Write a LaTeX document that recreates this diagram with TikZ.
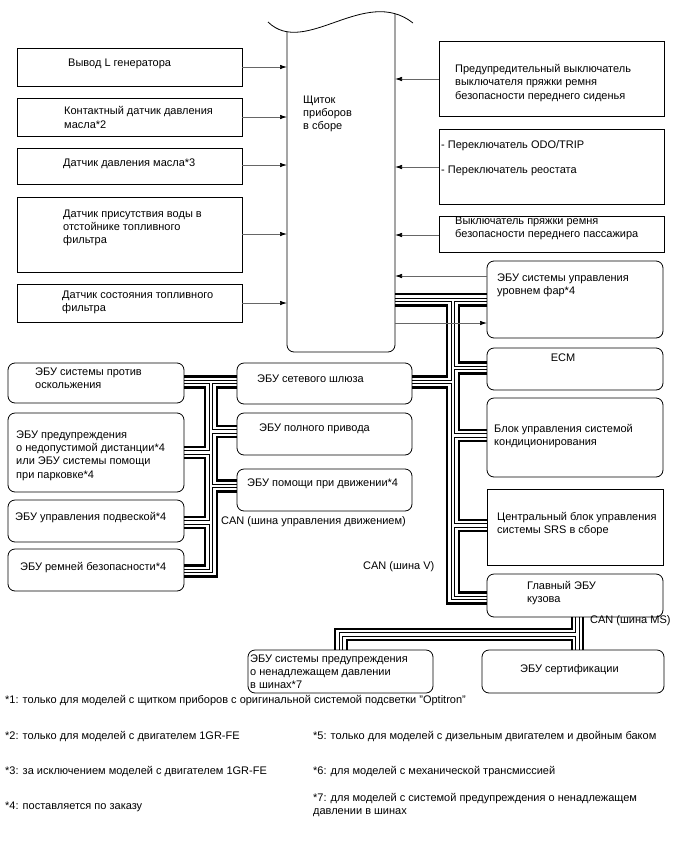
\documentclass[tikz,border=0pt]{standalone}
\usepackage{fontspec}
\setmainfont{Liberation Sans}
\usetikzlibrary{arrows.meta}
\pgfdeclarelayer{bg}
\pgfsetlayers{bg,main}
\newcommand\mkbox[6]{\node[#1, minimum width={(#5)-(#3)}, minimum height={(#6)-(#4)}] (#2) at (#3,#4) {};}
\begin{document}
\begin{tikzpicture}[x=1pt,y=-1pt,
  bx/.style={draw, line width=0.8pt, anchor=north west, inner sep=0pt, outer sep=0pt},
  rbx/.style={bx, rounded corners=7pt},
  tx/.style={anchor=west, inner sep=0pt, align=left, font=\fontsize{11}{13.2}\selectfont},
  arr/.style={draw=black!60, line width=0.7pt, -{Latex[length=7pt,width=4.5pt,color=black]}},
  thk/.style={line width=2.8pt},
  holo/.style={line width=4.6pt},
  holi/.style={white, line width=2.4pt},
  frame/.style={line width=0.8pt}
]
\useasboundingbox (0,0) rectangle (688,852);
% boxes
\mkbox{bx}{s1}{17}{48}{242}{86}
\mkbox{bx}{s2}{17}{98}{242}{136}
\mkbox{bx}{s3}{17}{148}{242}{184}
\mkbox{bx}{s4}{17}{197}{242}{272}
\mkbox{bx}{s5}{17}{284}{242}{322}
\node[anchor=north west, inner sep=0pt, outer sep=0pt, minimum width=108pt, minimum height=339pt] (meter) at (287,13) {};
\mkbox{bx}{r1}{439}{41}{664}{116}
\mkbox{bx}{r2}{439}{129}{664}{204}
\mkbox{bx}{r3}{439}{216}{664}{252}
\mkbox{rbx}{hl}{487}{261}{663}{338}
\mkbox{rbx}{ecm}{487}{348}{663}{390}
\mkbox{rbx}{ac}{487}{398}{663}{477}
\mkbox{bx}{srs}{487}{489}{663}{565}
\mkbox{rbx}{body}{487}{574}{663}{617}
\mkbox{rbx}{gw}{237}{363}{412}{404}
\mkbox{rbx}{awd}{237}{413}{412}{455}
\mkbox{rbx}{da}{237}{469}{412}{511}
\mkbox{rbx}{abs}{8}{363}{184}{403}
\mkbox{rbx}{dist}{8}{413}{184}{492}
\mkbox{rbx}{susp}{8}{500}{184}{542}
\mkbox{rbx}{belt}{8}{549}{184}{591}
\mkbox{rbx}{tire}{248}{650}{433}{693}
\mkbox{rbx}{cert}{482}{650}{664}{693}
% meter outline
\draw[frame, rounded corners=7pt] (meter.west |- 0,31.5) -- (meter.south west) -- (meter.south east) -- (meter.east |- 0,13.7);
\draw[frame] (268,22) .. controls (305,58) and (365,-15) .. (413,23);
% texts
\node[tx] (t1) at (68,64) {Вывод L генератора};
\node[tx] (t2) at (64,117.5) {Контактный датчик давления\\масла*2};
\node[tx] (t3) at (63,164) {Датчик давления масла*3};
\node[tx] (t4) at (63,228) {Датчик присутствия воды в\\отстойнике топливного\\фильтра};
\node[tx] (t5) at (62,302) {Датчик состояния топливного\\фильтра};
\node[tx] (tm) at (303,114) {Щиток\\приборов\\в сборе};
\node[tx] (tr1) at (455,83) {Предупредительный выключатель\\выключателя пряжки ремня\\безопасности переднего сиденья};
\node[tx] (tr2a) at (441,146) {- Переключатель ODO/TRIP};
\node[tx] (tr2b) at (441,171) {- Переключатель реостата};
\node[tx] (tr3) at (455,228.5) {Выключатель пряжки ремня\\безопасности переднего пассажира};
\node[tx] (thl) at (497,285.5) {ЭБУ системы управления\\уровнем фар*4};
\node[tx, anchor=center] (tecm) at (563,358) {ECM};
\node[tx] (tac) at (494,436) {Блок управления системой\\кондиционирования};
\node[tx] (tsrs) at (497,524) {Центральный блок управления\\системы SRS в сборе};
\node[tx] (tbody) at (527,593) {Главный ЭБУ\\кузова};
\node[tx] (tgw) at (257,379) {ЭБУ сетевого шлюза};
\node[tx] (tawd) at (259,429) {ЭБУ полного привода};
\node[tx] (tda) at (247,484) {ЭБУ помощи при движении*4};
\node[tx] (lcan1) at (221,522) {CAN (шина управления движением)};
\node[tx] (lcan2) at (363,567) {CAN (шина V)};
\node[tx] (lcan3) at (590,621) {CAN (шина MS)};
\node[tx] (tabs) at (35,378) {ЭБУ системы против\\оскольжения};
\node[tx] (tdist) at (16,455.5) {ЭБУ предупреждения\\о недопустимой дистанции*4\\или ЭБУ системы помощи\\при парковке*4};
\node[tx] (tsusp) at (15,518) {ЭБУ управления подвеской*4};
\node[tx] (tbelt) at (20,568) {ЭБУ ремней безопасности*4};
\node[tx, font=\fontsize{11}{12.8}\selectfont] (ttire) at (250,671.5) {ЭБУ системы предупреждения\\о ненадлежащем давлении\\в шинах*7};
\node[tx] (tcert) at (520,670) {ЭБУ сертификации};
% footnotes
\node[tx] (f1) at (5,701) {*1: только для моделей с щитком приборов с оригинальной системой подсветки "Optitron"};
\node[tx] (f2) at (5,737) {*2: только для моделей с двигателем 1GR-FE};
\node[tx] (f3) at (5,772) {*3: за исключением моделей с двигателем 1GR-FE};
\node[tx] (f4) at (5,807) {*4: поставляется по заказу};
\node[tx] (f5) at (313,737) {*5: только для моделей с дизельным двигателем и двойным баком};
\node[tx] (f6) at (313,772) {*6: для моделей с механической трансмиссией};
\node[tx] (f7) at (313,805) {*7: для моделей с системой предупреждения о ненадлежащем\\давлении в шинах};
% arrows
\draw[arr] (s1.east |- 0,67) -- (meter.west |- 0,67);
\draw[arr] (s2.east |- 0,117) -- (meter.west |- 0,117);
\draw[arr] (s3.east |- 0,165) -- (meter.west |- 0,165);
\draw[arr] (s4.east |- 0,234) -- (meter.west |- 0,234);
\draw[arr] (s5.east |- 0,303) -- (meter.west |- 0,303);
\draw[arr] (r1.west |- 0,79) -- (meter.east |- 0,79);
\draw[arr] (r2.west |- 0,167) -- (meter.east |- 0,167);
\draw[arr] (r3.west |- 0,235) -- (meter.east |- 0,235);
\draw[arr] (hl.west |- 0,276) -- (meter.east |- 0,276);
\draw[arr] (meter.east |- 0,323) -- (hl.west |- 0,323);
% bus
\def\hollowpaths{
  (meter.east |- 0,300) -- (hl.west |- 0,300)
  (453,300) -- (453,598) -- (body.west |- 0,598)
  (gw.east |- 0,382) -- (453,382)
  (453,368) -- (ecm.west |- 0,368)
  (453,435.5) -- (ac.west |- 0,435.5)
  (453,525.5) -- (srs.west |- 0,525.5)
  (abs.east |- 0,382) -- (gw.west |- 0,382)
  (211,382) -- (211,571) -- (belt.east |- 0,571)
  (211,452.5) -- (dist.east |- 0,452.5)
  (211,522.5) -- (susp.east |- 0,522.5)
  (211,431.5) -- (awd.west |- 0,431.5)
  (211,486) -- (da.west |- 0,486)
  (577.5,0 |- body.south) -- (577.5,0 |- cert.north)
  (577.5,634.5) -- (341,634.5) -- (341,0 |- tire.north)
}
\begin{pgfonlayer}{bg}
\fill[white] (0,0) rectangle (688,852);
\draw[holo] \hollowpaths;
\draw[holi] \hollowpaths;
\draw[thk] (meter.east |- 0,294) -- (hl.west |- 0,294);
\draw[thk] (meter.east |- 0,305.5) -- (447,305.5) -- (447,376.5) -- (gw.east |- 0,376.5);
\draw[thk] (gw.east |- 0,387.5) -- (447,387.5) -- (447,603.5) -- (body.west |- 0,603.5);
\draw[thk] (hl.west |- 0,305.5) -- (459,305.5) -- (459,362.5) -- (ecm.west |- 0,362.5);
\draw[thk] (ecm.west |- 0,373.5) -- (459,373.5) -- (459,430) -- (ac.west |- 0,430);
\draw[thk] (ac.west |- 0,441) -- (459,441) -- (459,520) -- (srs.west |- 0,520);
\draw[thk] (srs.west |- 0,531) -- (459,531) -- (459,592.5) -- (body.west |- 0,592.5);
\draw[thk] (abs.east |- 0,376.5) -- (gw.west |- 0,376.5);
\draw[thk] (abs.east |- 0,387.5) -- (205,387.5) -- (205,447) -- (dist.east |- 0,447);
\draw[thk] (dist.east |- 0,458) -- (205,458) -- (205,517) -- (susp.east |- 0,517);
\draw[thk] (susp.east |- 0,528) -- (205,528) -- (205,565.5) -- (belt.east |- 0,565.5);
\draw[thk] (belt.east |- 0,576.5) -- (217,576.5) -- (217,491.5) -- (da.west |- 0,491.5);
\draw[thk] (gw.west |- 0,387.5) -- (217,387.5) -- (217,426) -- (awd.west |- 0,426);
\draw[thk] (awd.west |- 0,437) -- (217,437) -- (217,480.5) -- (da.west |- 0,480.5);
\draw[thk] (572,0 |- body.south) -- (572,629) -- (335,629) -- (335,0 |- tire.north);
\draw[thk] (347,0 |- tire.north) -- (347,640) -- (572,640) -- (572,0 |- cert.north);
\draw[thk] (583,0 |- body.south) -- (583,0 |- cert.north);
\end{pgfonlayer}
\end{tikzpicture}
\end{document}
